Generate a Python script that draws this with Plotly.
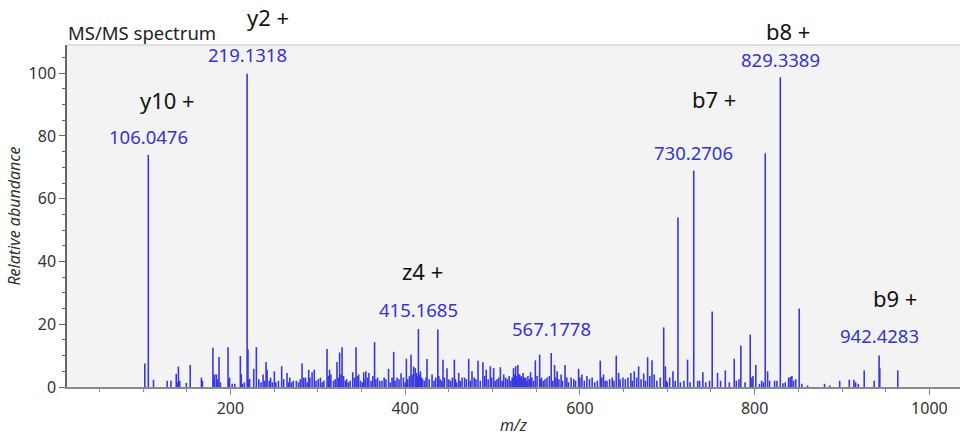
import plotly.graph_objects as go

# ---------------- data ----------------
mz = [102.0, 106.0476, 112.0, 127.6, 132.0, 138.0, 140.5, 149.6, 154.0, 166.8, 168.0,
      180.0, 182.0, 184.0, 187.0, 197.3, 199.0, 202.0, 205.0, 211.4, 212.5, 219.1318,
      220.1, 222.0, 226.7, 229.7, 237.4, 240.8, 242.0, 244.5, 250.3, 252.0, 258.7,
      264.8, 266.5, 275.5, 282.0, 284.0, 289.6, 291.0, 293.5, 296.0, 310.6, 313.5,
      315.0, 322.0, 325.0, 327.8, 331.5, 340.0, 343.8, 346.8, 352.6, 355.0, 358.5,
      365.0, 368.5, 373.5, 381.0, 386.9, 390.7, 395.3, 401.4, 406.7, 409.7, 411.6,
      415.1685, 417.5, 425.0, 430.8, 437.4, 443.3, 447.9, 456.3, 461.3, 465.1, 472.7,
      476.5, 483.4, 489.0, 492.8, 497.5, 501.3, 509.0, 512.8, 524.0, 526.5, 529.0,
      531.0, 533.0, 535.0, 538.0, 540.5, 543.5, 549.0, 553.9, 562.3, 567.1778, 571.0,
      574.0, 578.5, 583.0, 590.0, 598.5, 602.3, 608.0, 614.0, 623.3, 627.0, 631.0,
      641.6, 644.3, 649.2, 652.0, 658.3, 662.2, 667.2, 673.0, 677.5, 682.5, 685.0,
      695.9, 697.8, 702.7, 706.5, 712.2, 723.2, 730.2706, 734.8, 740.7, 748.3, 751.4,
      757.5, 766.4, 776.6, 779.0, 784.2, 794.9, 796.8, 798.1, 801.3, 805.5, 812.1,
      814.8, 817.1, 822.8, 825.5, 829.3389, 832.4, 838.8, 840.7, 842.6, 844.5, 851.0,
      854.0, 860.5, 880.0, 886.0, 897.3, 908.3, 913.6, 915.5, 918.6, 925.4, 936.8,
      942.4283, 943.2, 963.8]
intensity = [7.5, 74.0, 2.3, 2.0, 2.0, 4.2, 6.5, 1.3, 7.0, 3.0, 2.0,
             12.5, 4.0, 4.0, 9.6, 12.7, 3.0, 1.0, 1.0, 9.9, 4.0, 99.8,
             12.0, 2.6, 5.8, 12.7, 4.0, 8.0, 5.5, 2.0, 5.0, 1.5, 6.6,
             4.5, 1.5, 2.0, 7.5, 3.0, 5.5, 3.0, 4.7, 5.5, 12.1, 5.5,
             4.0, 8.0, 11.0, 12.7, 2.0, 4.7, 12.7, 4.0, 4.7, 5.0, 4.5,
             14.3, 3.0, 2.0, 5.8, 11.2, 3.0, 4.4, 9.0, 10.3, 6.5, 6.0,
             18.5, 5.0, 8.9, 4.0, 18.3, 8.7, 6.0, 8.7, 4.5, 3.0, 9.0,
             5.0, 8.4, 7.9, 5.5, 6.6, 6.0, 6.3, 4.0, 6.0, 6.6, 7.0,
             4.0, 3.5, 4.5, 3.0, 3.5, 4.7, 8.5, 10.3, 3.0, 10.8, 7.0,
             5.0, 4.0, 7.0, 3.0, 5.8, 4.0, 3.5, 3.0, 8.4, 4.0, 2.0,
             10.0, 4.5, 3.0, 2.5, 4.5, 5.0, 6.6, 4.3, 9.5, 8.5, 4.0,
             19.0, 6.6, 3.0, 5.0, 54.0, 8.7, 69.0, 2.0, 4.7, 2.0, 24.1,
             4.5, 5.3, 9.0, 2.0, 13.2, 16.7, 3.0, 3.5, 7.0, 1.0, 74.5,
             5.0, 2.0, 2.0, 2.0, 98.7, 1.2, 3.0, 3.2, 3.5, 2.0, 25.0,
             1.0, 0.5, 1.0, 0.5, 2.0, 2.3, 2.3, 1.5, 1.0, 5.3, 2.0,
             10.0, 6.0, 5.3]

# low-level background peaks ("grass")
bg_mz = [139.0, 142.0, 181.0, 185.5, 188.5, 198.2, 213.8, 216.0, 221.0, 232.5, 235.0,
         239.0, 246.0, 248.0, 255.0, 261.0, 268.0, 270.0, 272.0, 278.0, 280.0, 286.0,
         288.0, 298.0, 300.5, 303.0, 305.0, 307.0, 312.0, 318.0, 320.0, 323.5, 326.5,
         329.5, 333.0, 335.0, 337.0, 342.0, 345.0, 349.0, 351.0, 354.0, 357.0, 361.0,
         363.0, 366.5, 371.0, 376.0, 378.0, 383.0, 385.0, 388.5, 393.0, 398.0, 400.0,
         403.0, 405.0, 408.0, 413.0, 414.0, 416.5, 419.0, 420.0, 422.0, 424.0, 427.5,
         433.0, 435.0, 438.5, 440.0, 442.0, 445.0, 450.0, 452.0, 454.0, 457.5, 459.0,
         463.0, 468.0, 470.0, 474.5, 479.0, 481.0, 486.0, 491.0, 495.0, 499.0, 503.0,
         505.0, 507.0, 511.0, 515.0, 517.0, 519.0, 521.0, 522.5, 525.0, 527.5, 530.0,
         532.0, 534.0, 536.5, 539.0, 542.0, 545.0, 547.0, 551.0, 555.0, 556.0, 558.0,
         560.0, 565.0, 569.0, 572.5, 576.0, 580.0, 585.0, 587.0, 593.0, 595.0, 600.0,
         605.0, 611.0, 617.0, 620.0, 625.0, 629.0, 634.0, 637.0, 639.0, 646.0, 655.0,
         660.0, 665.0, 670.0, 675.0, 680.0, 688.0, 692.0, 699.0, 700.0, 709.0, 715.0,
         719.0, 726.0, 737.0, 744.0, 761.0, 771.0, 782.0, 789.0, 808.0, 810.0, 835.0,
         847.0]
bg_int = [1.5, 2.0, 3.0, 2.5, 1.5, 2.0, 1.0, 1.5, 2.0, 2.5, 1.5,
          2.0, 3.0, 1.5, 2.0, 2.5, 3.0, 1.5, 2.0, 1.5, 2.5, 3.0,
          1.5, 2.0, 2.5, 3.0, 1.5, 2.0, 3.5, 2.0, 2.5, 3.0, 4.0,
          3.5, 2.5, 1.5, 2.0, 3.0, 3.5, 2.0, 1.5, 2.5, 3.0, 2.0,
          3.5, 2.5, 2.0, 3.0, 2.5, 1.5, 3.0, 2.0, 2.5, 3.0, 1.5,
          2.5, 3.5, 4.0, 4.5, 3.5, 4.0, 3.0, 2.5, 2.0, 3.0, 2.5,
          2.0, 3.0, 3.5, 2.5, 2.0, 3.0, 2.5, 2.0, 3.0, 2.5, 1.5,
          2.0, 3.0, 2.5, 2.0, 3.0, 2.5, 2.0, 3.5, 2.5, 3.0, 2.0,
          2.5, 3.0, 2.0, 3.0, 2.5, 3.5, 2.0, 3.0, 4.0, 3.5, 4.0,
          3.0, 2.5, 3.0, 2.0, 2.5, 3.0, 2.0, 3.5, 2.5, 3.0, 2.0,
          2.5, 3.5, 2.0, 3.0, 2.5, 2.0, 3.0, 1.5, 2.5, 2.0, 3.0,
          2.0, 2.5, 1.5, 2.0, 3.0, 2.0, 2.5, 3.0, 2.0, 2.5, 3.0,
          2.0, 3.0, 2.5, 2.0, 3.5, 2.0, 3.0, 2.0, 1.5, 2.0, 1.5,
          2.0, 1.5, 2.0, 1.5, 2.0, 1.5, 2.5, 1.5, 2.0, 1.5, 1.5,
          2.5]

label_mz = [106.0476, 219.1318, 415.1685, 567.1778, 730.2706, 829.3389, 942.4283]
label_text = ["106.0476", "219.1318", "415.1685", "567.1778", "730.2706", "829.3389", "942.4283"]
label_height = [74.0, 99.8, 18.5, 10.8, 69.0, 98.7, 10.0]

ion_mz = [106.0476, 219.1318, 415.1685, 730.2706, 829.3389, 942.4283]
ion_names = ["y10 +", "y2 +", "z4 +", "b7 +", "b8 +", "b9 +"]
ion_height = [74.0, 99.8, 18.5, 69.0, 98.7, 10.0]

# ---------------- figure ----------------
xs, ys = [], []
for m, h in zip(list(mz) + bg_mz, list(intensity) + bg_int):
    xs += [m, m, None]
    ys += [0, h, None]

STICK = "#3838e0"
LABEL = "#3434d2"
FONT = "Noto Sans"

fig = go.Figure()
fig.add_trace(go.Scatter(x=xs, y=ys, mode="lines",
                         line=dict(color=STICK, width=1.6),
                         hoverinfo="skip", showlegend=False))

# peak m/z labels
label_shift = [4, 5, 5, 10, 4, 3, 6]
for m, t, h, s in zip(label_mz, label_text, label_height, label_shift):
    fig.add_annotation(x=m, y=h, text=t, showarrow=False, yanchor="bottom",
                       yshift=s, font=dict(family=FONT, size=18.5, color=LABEL))

# ion labels
ion_xshift = [19, 21, 4, 20, 8, 16]
ion_yshift = [38, 40, 41, 55, 29, 41]
for m, t, h, xs_, ys_ in zip(ion_mz, ion_names, ion_height, ion_xshift, ion_yshift):
    fig.add_annotation(x=m, y=h, text=t, showarrow=False, yanchor="bottom",
                       xshift=xs_, yshift=ys_,
                       font=dict(family=FONT, size=22, color="#111111"))

# title in upper-left
fig.add_annotation(x=0, y=1, xref="paper", yref="paper", xanchor="left",
                   yanchor="bottom", text="MS/MS spectrum", showarrow=False,
                   xshift=-1, yshift=-2,
                   font=dict(family=FONT, size=18.5, color="#222222"))

# light top border of plot area
fig.add_shape(type="line", xref="paper", yref="paper", x0=0, x1=1, y0=1, y1=1,
              line=dict(color="#d4d4d4", width=1.5))

fig.update_layout(
    width=964, height=439,
    margin=dict(l=67, r=4, t=45, b=52),
    paper_bgcolor="white",
    plot_bgcolor="#f3f3f3",
    font=dict(family=FONT, size=16, color="#333333"),
    showlegend=False,
)
fig.update_xaxes(
    range=[13, 1035], tick0=0, dtick=200, showgrid=False, zeroline=False,
    showline=True, linecolor="#8a8a8a", linewidth=1.5,
    ticks="outside", ticklen=6, tickcolor="#8a8a8a",
    tickfont=dict(family=FONT, size=16, color="#333333"),
    minor=dict(dtick=50, tick0=0, ticks="outside", ticklen=3, tickcolor="#8a8a8a"),
    title=dict(text="<i>m/z</i>", font=dict(family=FONT, size=16, color="#333333"),
               standoff=2),
)
fig.update_yaxes(
    range=[0, 109], tick0=0, dtick=20, showgrid=False, zeroline=False,
    showline=True, linecolor="#666666", linewidth=1.5,
    ticks="outside", ticklen=6, tickcolor="#666666",
    tickfont=dict(family=FONT, size=16, color="#333333"),
    minor=dict(dtick=5, tick0=0, ticks="outside", ticklen=3, tickcolor="#666666"),
    title=dict(text="<i>Relative abundance</i>",
               font=dict(family=FONT, size=16, color="#333333"), standoff=4),
)

fig.write_html("out.html")
